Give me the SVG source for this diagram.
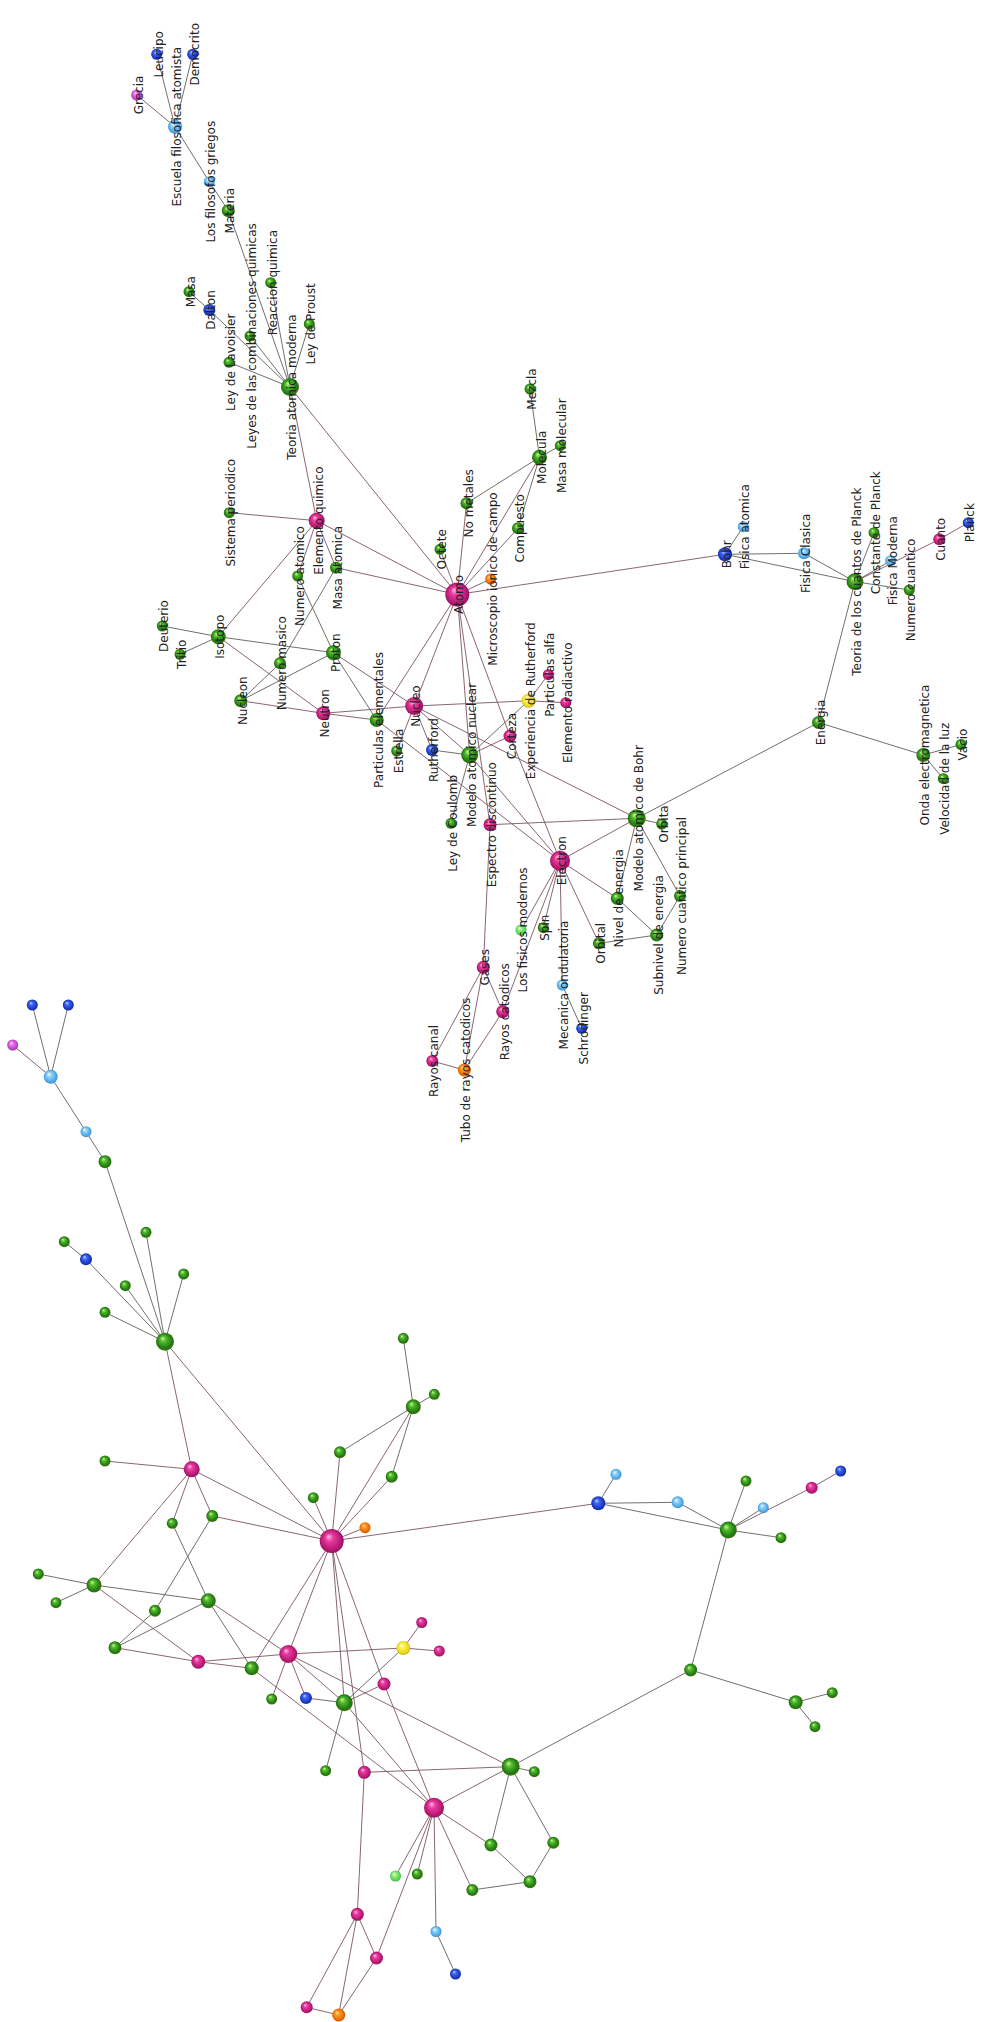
<svg xmlns="http://www.w3.org/2000/svg" width="981" height="2022" viewBox="0 0 981 2022">
<style>
.e{stroke:#5f605a;stroke-width:0.9;fill:none}
.p{stroke:#7c5464;stroke-width:0.9;fill:none}
.g{fill:url(#gG)}.m{fill:url(#gM)}.b{fill:url(#gB)}.lb{fill:url(#gLB)}.o{fill:url(#gO)}.y{fill:url(#gY)}.v{fill:url(#gV)}.lg{fill:url(#gLG)}
text{font-family:"DejaVu Sans","Liberation Sans",sans-serif;font-size:12px;fill:#222;text-anchor:middle}
</style>
<defs>
<radialGradient id="gG" cx="0.5" cy="0.5" r="0.55" fx="0.36" fy="0.3"><stop offset="0" stop-color="#d2f79a"/><stop offset="0.3" stop-color="#52ba2c"/><stop offset="0.78" stop-color="#1e7812"/><stop offset="1" stop-color="#6a6a14"/></radialGradient>
<radialGradient id="gM" cx="0.5" cy="0.5" r="0.55" fx="0.36" fy="0.3"><stop offset="0" stop-color="#ffc0e2"/><stop offset="0.3" stop-color="#ec3aa0"/><stop offset="0.78" stop-color="#b41872"/><stop offset="1" stop-color="#801450"/></radialGradient>
<radialGradient id="gB" cx="0.5" cy="0.5" r="0.55" fx="0.36" fy="0.3"><stop offset="0" stop-color="#c0d4ff"/><stop offset="0.3" stop-color="#3e66f2"/><stop offset="0.78" stop-color="#1a36c0"/><stop offset="1" stop-color="#122a80"/></radialGradient>
<radialGradient id="gLB" cx="0.5" cy="0.5" r="0.55" fx="0.36" fy="0.3"><stop offset="0" stop-color="#f4fcff"/><stop offset="0.3" stop-color="#92d4fa"/><stop offset="0.78" stop-color="#4aa6e6"/><stop offset="1" stop-color="#3a80c0"/></radialGradient>
<radialGradient id="gO" cx="0.5" cy="0.5" r="0.55" fx="0.36" fy="0.3"><stop offset="0" stop-color="#ffe4a8"/><stop offset="0.3" stop-color="#ff9c22"/><stop offset="0.78" stop-color="#ee6800"/><stop offset="1" stop-color="#a44400"/></radialGradient>
<radialGradient id="gY" cx="0.5" cy="0.5" r="0.55" fx="0.36" fy="0.3"><stop offset="0" stop-color="#ffffe4"/><stop offset="0.3" stop-color="#fbf252"/><stop offset="0.78" stop-color="#e6d61e"/><stop offset="1" stop-color="#b0a012"/></radialGradient>
<radialGradient id="gV" cx="0.5" cy="0.5" r="0.55" fx="0.36" fy="0.3"><stop offset="0" stop-color="#ffd8ff"/><stop offset="0.3" stop-color="#e476ec"/><stop offset="0.78" stop-color="#c040c8"/><stop offset="1" stop-color="#84308e"/></radialGradient>
<radialGradient id="gLG" cx="0.5" cy="0.5" r="0.55" fx="0.36" fy="0.3"><stop offset="0" stop-color="#f2ffe4"/><stop offset="0.3" stop-color="#98f288"/><stop offset="0.78" stop-color="#52d452"/><stop offset="1" stop-color="#34a434"/></radialGradient>
</defs>
<rect width="981" height="2022" fill="#fff"/>
<g id="connectors">
<g id="connectors-top">
<line class="p" x1="136.7" y1="95" x2="175" y2="126.7"/>
<line class="e" x1="156.7" y1="54.3" x2="175" y2="126.7"/>
<line class="e" x1="192.7" y1="54.3" x2="175" y2="126.7"/>
<line class="e" x1="175" y1="126.7" x2="209.3" y2="181.7"/>
<line class="e" x1="209.3" y1="181.7" x2="228.3" y2="210.7"/>
<line class="e" x1="228.3" y1="210.7" x2="290" y2="387"/>
<line class="e" x1="189" y1="291.7" x2="209.3" y2="310"/>
<line class="e" x1="209.3" y1="310" x2="290" y2="387"/>
<line class="e" x1="229" y1="362.3" x2="290" y2="387"/>
<line class="e" x1="250" y1="336" x2="290" y2="387"/>
<line class="e" x1="270.7" y1="282.7" x2="290" y2="387"/>
<line class="e" x1="309.3" y1="324" x2="290" y2="387"/>
<line class="p" x1="290" y1="387" x2="316.7" y2="520.7"/>
<line class="p" x1="290" y1="387" x2="457.3" y2="594.5"/>
<line class="p" x1="229.3" y1="512.7" x2="316.7" y2="520.7"/>
<line class="p" x1="316.7" y1="520.7" x2="457.3" y2="594.5"/>
<line class="p" x1="316.7" y1="520.7" x2="218.3" y2="636.7"/>
<line class="p" x1="316.7" y1="520.7" x2="297.7" y2="576"/>
<line class="p" x1="316.7" y1="520.7" x2="336" y2="567.7"/>
<line class="p" x1="336" y1="567.7" x2="457.3" y2="594.5"/>
<line class="e" x1="297.7" y1="576" x2="333.5" y2="652.7"/>
<line class="e" x1="336" y1="567.7" x2="280" y2="663.3"/>
<line class="e" x1="162.3" y1="626" x2="218.3" y2="636.7"/>
<line class="e" x1="180" y1="654.3" x2="218.3" y2="636.7"/>
<line class="e" x1="218.3" y1="636.7" x2="333.5" y2="652.7"/>
<line class="p" x1="218.3" y1="636.7" x2="323.3" y2="713.3"/>
<line class="e" x1="240.7" y1="700.7" x2="280" y2="663.3"/>
<line class="e" x1="240.7" y1="700.7" x2="333.5" y2="652.7"/>
<line class="p" x1="240.7" y1="700.7" x2="323.3" y2="713.3"/>
<line class="e" x1="333.5" y1="652.7" x2="376.7" y2="720"/>
<line class="p" x1="333.5" y1="652.7" x2="414.2" y2="706"/>
<line class="p" x1="323.3" y1="713.3" x2="414.2" y2="706"/>
<line class="p" x1="323.3" y1="713.3" x2="376.7" y2="720"/>
<line class="p" x1="376.7" y1="720" x2="457.3" y2="594.5"/>
<line class="p" x1="376.7" y1="720" x2="560" y2="860.7"/>
<line class="p" x1="414.2" y1="706" x2="457.3" y2="594.5"/>
<line class="p" x1="414.2" y1="706" x2="396.7" y2="751"/>
<line class="p" x1="414.2" y1="706" x2="432" y2="750"/>
<line class="p" x1="414.2" y1="706" x2="469.7" y2="755"/>
<line class="p" x1="414.2" y1="706" x2="528.5" y2="700.8"/>
<line class="p" x1="414.2" y1="706" x2="636.7" y2="818.3"/>
<line class="e" x1="432" y1="750" x2="469.7" y2="755"/>
<line class="p" x1="469.7" y1="755" x2="457.3" y2="594.5"/>
<line class="e" x1="469.7" y1="755" x2="451" y2="823.3"/>
<line class="e" x1="469.7" y1="755" x2="528.5" y2="700.8"/>
<line class="p" x1="469.7" y1="755" x2="510" y2="736"/>
<line class="p" x1="469.7" y1="755" x2="560" y2="860.7"/>
<line class="p" x1="457.3" y1="594.5" x2="510" y2="736"/>
<line class="p" x1="510" y1="736" x2="560" y2="860.7"/>
<line class="p" x1="457.3" y1="594.5" x2="490" y2="824.7"/>
<line class="p" x1="490" y1="824.7" x2="636.7" y2="818.3"/>
<line class="p" x1="490" y1="824.7" x2="483.3" y2="967.3"/>
<line class="p" x1="528.5" y1="700.8" x2="548.3" y2="674.7"/>
<line class="p" x1="528.5" y1="700.8" x2="565.8" y2="702.7"/>
<line class="p" x1="457.3" y1="594.5" x2="440" y2="549.3"/>
<line class="p" x1="457.3" y1="594.5" x2="466.5" y2="503.3"/>
<line class="p" x1="457.3" y1="594.5" x2="539.5" y2="457.3"/>
<line class="p" x1="457.3" y1="594.5" x2="518" y2="528.3"/>
<line class="p" x1="457.3" y1="594.5" x2="490.7" y2="579"/>
<line class="p" x1="457.3" y1="594.5" x2="725" y2="554.3"/>
<line class="e" x1="466.5" y1="503.3" x2="539.5" y2="457.3"/>
<line class="e" x1="518" y1="528.3" x2="539.5" y2="457.3"/>
<line class="e" x1="539.5" y1="457.3" x2="530" y2="389"/>
<line class="e" x1="539.5" y1="457.3" x2="560.3" y2="445.7"/>
<line class="p" x1="560" y1="860.7" x2="636.7" y2="818.3"/>
<line class="p" x1="560" y1="860.7" x2="617.3" y2="898.3"/>
<line class="p" x1="560" y1="860.7" x2="599" y2="943.3"/>
<line class="p" x1="560" y1="860.7" x2="562.3" y2="985"/>
<line class="p" x1="560" y1="860.7" x2="543.3" y2="927.7"/>
<line class="p" x1="560" y1="860.7" x2="521" y2="930"/>
<line class="p" x1="560" y1="860.7" x2="502.7" y2="1011.7"/>
<line class="e" x1="636.7" y1="818.3" x2="661.7" y2="824"/>
<line class="e" x1="636.7" y1="818.3" x2="680" y2="896"/>
<line class="e" x1="636.7" y1="818.3" x2="617.3" y2="898.3"/>
<line class="e" x1="636.7" y1="818.3" x2="818.5" y2="722.5"/>
<line class="e" x1="617.3" y1="898.3" x2="656.7" y2="935"/>
<line class="e" x1="656.7" y1="935" x2="599" y2="943.3"/>
<line class="e" x1="656.7" y1="935" x2="680" y2="896"/>
<line class="e" x1="562.3" y1="985" x2="581.7" y2="1028.3"/>
<line class="p" x1="483.3" y1="967.3" x2="502.7" y2="1011.7"/>
<line class="p" x1="483.3" y1="967.3" x2="432.3" y2="1061"/>
<line class="p" x1="483.3" y1="967.3" x2="464.3" y2="1070"/>
<line class="p" x1="432.3" y1="1061" x2="464.3" y2="1070"/>
<line class="p" x1="464.3" y1="1070" x2="502.7" y2="1011.7"/>
<line class="e" x1="725" y1="554.3" x2="743.3" y2="526.7"/>
<line class="e" x1="725" y1="554.3" x2="804" y2="553.3"/>
<line class="e" x1="725" y1="554.3" x2="855" y2="581.7"/>
<line class="e" x1="804" y1="553.3" x2="855" y2="581.7"/>
<line class="e" x1="855" y1="581.7" x2="874" y2="532.7"/>
<line class="e" x1="855" y1="581.7" x2="890.7" y2="560.7"/>
<line class="e" x1="855" y1="581.7" x2="909.3" y2="590"/>
<line class="p" x1="855" y1="581.7" x2="939.3" y2="539.3"/>
<line class="e" x1="855" y1="581.7" x2="818.5" y2="722.5"/>
<line class="p" x1="939.3" y1="539.3" x2="968.3" y2="522.7"/>
<line class="e" x1="818.5" y1="722.5" x2="923.3" y2="755"/>
<line class="e" x1="923.3" y1="755" x2="961" y2="744.5"/>
<line class="e" x1="923.3" y1="755" x2="943.3" y2="778.7"/>
</g>
<g id="connectors-bottom">
<line class="p" x1="12.7" y1="1045" x2="50.7" y2="1076.7"/>
<line class="e" x1="32.3" y1="1005" x2="50.7" y2="1076.7"/>
<line class="e" x1="68.3" y1="1005" x2="50.7" y2="1076.7"/>
<line class="e" x1="50.7" y1="1076.7" x2="86" y2="1131.7"/>
<line class="e" x1="86" y1="1131.7" x2="105" y2="1161.7"/>
<line class="e" x1="105" y1="1161.7" x2="165" y2="1341.7"/>
<line class="e" x1="64.3" y1="1241.7" x2="86" y2="1259.3"/>
<line class="e" x1="86" y1="1259.3" x2="165" y2="1341.7"/>
<line class="e" x1="105" y1="1312.3" x2="165" y2="1341.7"/>
<line class="e" x1="125.3" y1="1285.7" x2="165" y2="1341.7"/>
<line class="e" x1="146" y1="1232.3" x2="165" y2="1341.7"/>
<line class="e" x1="183.7" y1="1274" x2="165" y2="1341.7"/>
<line class="p" x1="165" y1="1341.7" x2="191.7" y2="1469.3"/>
<line class="p" x1="165" y1="1341.7" x2="331.7" y2="1541"/>
<line class="p" x1="105" y1="1461" x2="191.7" y2="1469.3"/>
<line class="p" x1="191.7" y1="1469.3" x2="331.7" y2="1541"/>
<line class="p" x1="191.7" y1="1469.3" x2="94" y2="1585"/>
<line class="p" x1="191.7" y1="1469.3" x2="172.3" y2="1523.3"/>
<line class="p" x1="191.7" y1="1469.3" x2="212.3" y2="1516"/>
<line class="p" x1="212.3" y1="1516" x2="331.7" y2="1541"/>
<line class="e" x1="172.3" y1="1523.3" x2="208.3" y2="1600.7"/>
<line class="e" x1="212.3" y1="1516" x2="155" y2="1610.7"/>
<line class="e" x1="38.3" y1="1574" x2="94" y2="1585"/>
<line class="e" x1="56" y1="1602.7" x2="94" y2="1585"/>
<line class="e" x1="94" y1="1585" x2="208.3" y2="1600.7"/>
<line class="p" x1="94" y1="1585" x2="198.3" y2="1661.7"/>
<line class="e" x1="115" y1="1647.7" x2="155" y2="1610.7"/>
<line class="e" x1="115" y1="1647.7" x2="208.3" y2="1600.7"/>
<line class="p" x1="115" y1="1647.7" x2="198.3" y2="1661.7"/>
<line class="e" x1="208.3" y1="1600.7" x2="251.7" y2="1668.3"/>
<line class="p" x1="208.3" y1="1600.7" x2="288.3" y2="1654"/>
<line class="p" x1="198.3" y1="1661.7" x2="288.3" y2="1654"/>
<line class="p" x1="198.3" y1="1661.7" x2="251.7" y2="1668.3"/>
<line class="p" x1="251.7" y1="1668.3" x2="331.7" y2="1541"/>
<line class="p" x1="251.7" y1="1668.3" x2="434" y2="1807.7"/>
<line class="p" x1="288.3" y1="1654" x2="331.7" y2="1541"/>
<line class="p" x1="288.3" y1="1654" x2="271.7" y2="1699"/>
<line class="p" x1="288.3" y1="1654" x2="306" y2="1698"/>
<line class="p" x1="288.3" y1="1654" x2="344.3" y2="1702.7"/>
<line class="p" x1="288.3" y1="1654" x2="403.3" y2="1648"/>
<line class="p" x1="288.3" y1="1654" x2="510.7" y2="1766.7"/>
<line class="e" x1="306" y1="1698" x2="344.3" y2="1702.7"/>
<line class="p" x1="344.3" y1="1702.7" x2="331.7" y2="1541"/>
<line class="e" x1="344.3" y1="1702.7" x2="325.7" y2="1770.7"/>
<line class="e" x1="344.3" y1="1702.7" x2="403.3" y2="1648"/>
<line class="p" x1="344.3" y1="1702.7" x2="384" y2="1684"/>
<line class="p" x1="344.3" y1="1702.7" x2="434" y2="1807.7"/>
<line class="p" x1="331.7" y1="1541" x2="384" y2="1684"/>
<line class="p" x1="384" y1="1684" x2="434" y2="1807.7"/>
<line class="p" x1="331.7" y1="1541" x2="364.3" y2="1772.3"/>
<line class="p" x1="364.3" y1="1772.3" x2="510.7" y2="1766.7"/>
<line class="p" x1="364.3" y1="1772.3" x2="357.3" y2="1914.3"/>
<line class="p" x1="403.3" y1="1648" x2="421.7" y2="1622.5"/>
<line class="p" x1="403.3" y1="1648" x2="439.3" y2="1651"/>
<line class="p" x1="331.7" y1="1541" x2="313.3" y2="1497.7"/>
<line class="p" x1="331.7" y1="1541" x2="340" y2="1452.3"/>
<line class="p" x1="331.7" y1="1541" x2="413.3" y2="1406.7"/>
<line class="p" x1="331.7" y1="1541" x2="391.7" y2="1476.7"/>
<line class="p" x1="331.7" y1="1541" x2="365" y2="1527.7"/>
<line class="p" x1="331.7" y1="1541" x2="598.3" y2="1503.3"/>
<line class="e" x1="340" y1="1452.3" x2="413.3" y2="1406.7"/>
<line class="e" x1="391.7" y1="1476.7" x2="413.3" y2="1406.7"/>
<line class="e" x1="413.3" y1="1406.7" x2="403.3" y2="1338.3"/>
<line class="e" x1="413.3" y1="1406.7" x2="434.3" y2="1394.3"/>
<line class="p" x1="434" y1="1807.7" x2="510.7" y2="1766.7"/>
<line class="p" x1="434" y1="1807.7" x2="491" y2="1845"/>
<line class="p" x1="434" y1="1807.7" x2="472.3" y2="1890"/>
<line class="p" x1="434" y1="1807.7" x2="436" y2="1931.5"/>
<line class="p" x1="434" y1="1807.7" x2="417.3" y2="1874"/>
<line class="p" x1="434" y1="1807.7" x2="395.5" y2="1876"/>
<line class="p" x1="434" y1="1807.7" x2="376.5" y2="1958"/>
<line class="e" x1="510.7" y1="1766.7" x2="534.3" y2="1771.7"/>
<line class="e" x1="510.7" y1="1766.7" x2="553.3" y2="1842.7"/>
<line class="e" x1="510.7" y1="1766.7" x2="491" y2="1845"/>
<line class="e" x1="510.7" y1="1766.7" x2="690.7" y2="1670"/>
<line class="e" x1="491" y1="1845" x2="530" y2="1881.7"/>
<line class="e" x1="530" y1="1881.7" x2="472.3" y2="1890"/>
<line class="e" x1="530" y1="1881.7" x2="553.3" y2="1842.7"/>
<line class="e" x1="436" y1="1931.5" x2="455.5" y2="1974"/>
<line class="p" x1="357.3" y1="1914.3" x2="376.5" y2="1958"/>
<line class="p" x1="357.3" y1="1914.3" x2="306.7" y2="2007.3"/>
<line class="p" x1="357.3" y1="1914.3" x2="338.7" y2="2015"/>
<line class="p" x1="306.7" y1="2007.3" x2="338.7" y2="2015"/>
<line class="p" x1="338.7" y1="2015" x2="376.5" y2="1958"/>
<line class="e" x1="598.3" y1="1503.3" x2="616" y2="1474.3"/>
<line class="e" x1="598.3" y1="1503.3" x2="677.7" y2="1502.3"/>
<line class="e" x1="598.3" y1="1503.3" x2="728.3" y2="1530"/>
<line class="e" x1="677.7" y1="1502.3" x2="728.3" y2="1530"/>
<line class="e" x1="728.3" y1="1530" x2="746" y2="1481"/>
<line class="e" x1="728.3" y1="1530" x2="763.3" y2="1507.7"/>
<line class="e" x1="728.3" y1="1530" x2="781" y2="1537.7"/>
<line class="p" x1="728.3" y1="1530" x2="811.7" y2="1487.7"/>
<line class="e" x1="728.3" y1="1530" x2="690.7" y2="1670"/>
<line class="p" x1="811.7" y1="1487.7" x2="840.7" y2="1471"/>
<line class="e" x1="690.7" y1="1670" x2="795.7" y2="1702.3"/>
<line class="e" x1="795.7" y1="1702.3" x2="832.3" y2="1692.7"/>
<line class="e" x1="795.7" y1="1702.3" x2="815" y2="1726.7"/>
</g>
</g>
<g id="nodes">
<g id="grecia"><circle class="v" cx="136.7" cy="95" r="5.5"/><circle class="v" cx="12.7" cy="1045" r="5.5"/><text transform="translate(136.7,95) rotate(-90)" y="6">Grecia</text></g>
<g id="leucipo"><circle class="b" cx="156.7" cy="54.3" r="5.5"/><circle class="b" cx="32.3" cy="1005" r="5.5"/><text transform="translate(156.7,54.3) rotate(-90)" y="6">Leucipo</text></g>
<g id="democrito"><circle class="b" cx="192.7" cy="54.3" r="5.5"/><circle class="b" cx="68.3" cy="1005" r="5.5"/><text transform="translate(192.7,54.3) rotate(-90)" y="6">Democrito</text></g>
<g id="escuela"><circle class="lb" cx="175" cy="126.7" r="7"/><circle class="lb" cx="50.7" cy="1076.7" r="7"/><text transform="translate(175,126.7) rotate(-90)" y="6">Escuela filosofica atomista</text></g>
<g id="filosofos"><circle class="lb" cx="209.3" cy="181.7" r="5.5"/><circle class="lb" cx="86" cy="1131.7" r="5.5"/><text transform="translate(209.3,181.7) rotate(-90)" y="6">Los filosofos griegos</text></g>
<g id="materia"><circle class="g" cx="228.3" cy="210.7" r="6.5"/><circle class="g" cx="105" cy="1161.7" r="6.5"/><text transform="translate(228.3,210.7) rotate(-90)" y="6">Materia</text></g>
<g id="masa"><circle class="g" cx="189" cy="291.7" r="5.5"/><circle class="g" cx="64.3" cy="1241.7" r="5.5"/><text transform="translate(189,291.7) rotate(-90)" y="6">Masa</text></g>
<g id="dalton"><circle class="b" cx="209.3" cy="310" r="6"/><circle class="b" cx="86" cy="1259.3" r="6"/><text transform="translate(209.3,310) rotate(-90)" y="6">Dalton</text></g>
<g id="reaccion"><circle class="g" cx="270.7" cy="282.7" r="5.5"/><circle class="g" cx="146" cy="1232.3" r="5.5"/><text transform="translate(270.7,282.7) rotate(-90)" y="6">Reaccion quimica</text></g>
<g id="lavoisier"><circle class="g" cx="229" cy="362.3" r="5.5"/><circle class="g" cx="105" cy="1312.3" r="5.5"/><text transform="translate(229,362.3) rotate(-90)" y="6">Ley de Lavoisier</text></g>
<g id="leyes"><circle class="g" cx="250" cy="336" r="5.5"/><circle class="g" cx="125.3" cy="1285.7" r="5.5"/><text transform="translate(250,336) rotate(-90)" y="6">Leyes de las combinaciones quimicas</text></g>
<g id="proust"><circle class="g" cx="309.3" cy="324" r="5.5"/><circle class="g" cx="183.7" cy="1274" r="5.5"/><text transform="translate(309.3,324) rotate(-90)" y="6">Ley de Proust</text></g>
<g id="teoria"><circle class="g" cx="290" cy="387" r="9"/><circle class="g" cx="165" cy="1341.7" r="9"/><text transform="translate(290,387) rotate(-90)" y="6">Teoria atomica moderna</text></g>
<g id="sistema"><circle class="g" cx="229.3" cy="512.7" r="5.5"/><circle class="g" cx="105" cy="1461" r="5.5"/><text transform="translate(229.3,512.7) rotate(-90)" y="6">Sistema periodico</text></g>
<g id="numatomico"><circle class="g" cx="297.7" cy="576" r="5.5"/><circle class="g" cx="172.3" cy="1523.3" r="5.5"/><text transform="translate(297.7,576) rotate(-90)" y="6">Numero atomico</text></g>
<g id="masaatomica"><circle class="g" cx="336" cy="567.7" r="6"/><circle class="g" cx="212.3" cy="1516" r="6"/><text transform="translate(336,567.7) rotate(-90)" y="6">Masa atomica</text></g>
<g id="elemento"><circle class="m" cx="316.7" cy="520.7" r="8"/><circle class="m" cx="191.7" cy="1469.3" r="8"/><text transform="translate(316.7,520.7) rotate(-90)" y="6">Elemento quimico</text></g>
<g id="octete"><circle class="g" cx="440" cy="549.3" r="5.5"/><circle class="g" cx="313.3" cy="1497.7" r="5.5"/><text transform="translate(440,549.3) rotate(-90)" y="6">Octete</text></g>
<g id="nometales"><circle class="g" cx="466.5" cy="503.3" r="6"/><circle class="g" cx="340" cy="1452.3" r="6"/><text transform="translate(466.5,503.3) rotate(-90)" y="6">No metales</text></g>
<g id="microscopio"><circle class="o" cx="490.7" cy="579" r="5.5"/><circle class="o" cx="365" cy="1527.7" r="5.5"/><text transform="translate(490.7,579) rotate(-90)" y="6">Microscopio ionico de campo</text></g>
<g id="compuesto"><circle class="g" cx="518" cy="528.3" r="6"/><circle class="g" cx="391.7" cy="1476.7" r="6"/><text transform="translate(518,528.3) rotate(-90)" y="6">Compuesto</text></g>
<g id="mezcla"><circle class="g" cx="530" cy="389" r="5.5"/><circle class="g" cx="403.3" cy="1338.3" r="5.5"/><text transform="translate(530,389) rotate(-90)" y="6">Mezcla</text></g>
<g id="masamolecular"><circle class="g" cx="560.3" cy="445.7" r="5.5"/><circle class="g" cx="434.3" cy="1394.3" r="5.5"/><text transform="translate(560.3,445.7) rotate(-90)" y="6">Masa molecular</text></g>
<g id="molecula"><circle class="g" cx="539.5" cy="457.3" r="7.5"/><circle class="g" cx="413.3" cy="1406.7" r="7.5"/><text transform="translate(539.5,457.3) rotate(-90)" y="6">Molecula</text></g>
<g id="atomo"><circle class="m" cx="457.3" cy="594.5" r="12"/><circle class="m" cx="331.7" cy="1541" r="12"/><text transform="translate(457.3,594.5) rotate(-90)" y="6">Atomo</text></g>
<g id="deuterio"><circle class="g" cx="162.3" cy="626" r="5.5"/><circle class="g" cx="38.3" cy="1574" r="5.5"/><text transform="translate(162.3,626) rotate(-90)" y="6">Deuterio</text></g>
<g id="tritio"><circle class="g" cx="180" cy="654.3" r="5.5"/><circle class="g" cx="56" cy="1602.7" r="5.5"/><text transform="translate(180,654.3) rotate(-90)" y="6">Tritio</text></g>
<g id="isotopo"><circle class="g" cx="218.3" cy="636.7" r="7.5"/><circle class="g" cx="94" cy="1585" r="7.5"/><text transform="translate(218.3,636.7) rotate(-90)" y="6">Isotopo</text></g>
<g id="nummasico"><circle class="g" cx="280" cy="663.3" r="6"/><circle class="g" cx="155" cy="1610.7" r="6"/><text transform="translate(280,663.3) rotate(-90)" y="6">Numero masico</text></g>
<g id="proton"><circle class="g" cx="333.5" cy="652.7" r="7.5"/><circle class="g" cx="208.3" cy="1600.7" r="7.5"/><text transform="translate(333.5,652.7) rotate(-90)" y="6">Proton</text></g>
<g id="nucleon"><circle class="g" cx="240.7" cy="700.7" r="6.5"/><circle class="g" cx="115" cy="1647.7" r="6.5"/><text transform="translate(240.7,700.7) rotate(-90)" y="6">Nucleon</text></g>
<g id="neutron"><circle class="m" cx="323.3" cy="713.3" r="7"/><circle class="m" cx="198.3" cy="1661.7" r="7"/><text transform="translate(323.3,713.3) rotate(-90)" y="6">Neutron</text></g>
<g id="particulas"><circle class="g" cx="376.7" cy="720" r="7"/><circle class="g" cx="251.7" cy="1668.3" r="7"/><text transform="translate(376.7,720) rotate(-90)" y="6">Particulas elementales</text></g>
<g id="estrella"><circle class="g" cx="396.7" cy="751" r="5.5"/><circle class="g" cx="271.7" cy="1699" r="5.5"/><text transform="translate(396.7,751) rotate(-90)" y="6">Estrella</text></g>
<g id="rutherford"><circle class="b" cx="432" cy="750" r="6"/><circle class="b" cx="306" cy="1698" r="6"/><text transform="translate(432,750) rotate(-90)" y="6">Rutherford</text></g>
<g id="nucleo"><circle class="m" cx="414.2" cy="706" r="9"/><circle class="m" cx="288.3" cy="1654" r="9"/><text transform="translate(414.2,706) rotate(-90)" y="6">Nucleo</text></g>
<g id="modelonuclear"><circle class="g" cx="469.7" cy="755" r="8.5"/><circle class="g" cx="344.3" cy="1702.7" r="8.5"/><text transform="translate(469.7,755) rotate(-90)" y="6">Modelo atomico nuclear</text></g>
<g id="corteza"><circle class="m" cx="510" cy="736" r="6.5"/><circle class="m" cx="384" cy="1684" r="6.5"/><text transform="translate(510,736) rotate(-90)" y="6">Corteza</text></g>
<g id="alfa"><circle class="m" cx="548.3" cy="674.7" r="5.5"/><circle class="m" cx="421.7" cy="1622.5" r="5.5"/><text transform="translate(548.3,674.7) rotate(-90)" y="6">Particulas alfa</text></g>
<g id="radiactivo"><circle class="m" cx="565.8" cy="702.7" r="5.5"/><circle class="m" cx="439.3" cy="1651" r="5.5"/><text transform="translate(565.8,702.7) rotate(-90)" y="6">Elemento radiactivo</text></g>
<g id="experiencia"><circle class="y" cx="528.5" cy="700.8" r="7"/><circle class="y" cx="403.3" cy="1648" r="7"/><text transform="translate(528.5,700.8) rotate(-90)" y="6">Experiencia de Rutherford</text></g>
<g id="coulomb"><circle class="g" cx="451" cy="823.3" r="5.5"/><circle class="g" cx="325.7" cy="1770.7" r="5.5"/><text transform="translate(451,823.3) rotate(-90)" y="6">Ley de Coulomb</text></g>
<g id="espectro"><circle class="m" cx="490" cy="824.7" r="6.5"/><circle class="m" cx="364.3" cy="1772.3" r="6.5"/><text transform="translate(490,824.7) rotate(-90)" y="6">Espectro discontinuo</text></g>
<g id="orbita"><circle class="g" cx="661.7" cy="824" r="5.5"/><circle class="g" cx="534.3" cy="1771.7" r="5.5"/><text transform="translate(661.7,824) rotate(-90)" y="6">Orbita</text></g>
<g id="bohrmodel"><circle class="g" cx="636.7" cy="818.3" r="9"/><circle class="g" cx="510.7" cy="1766.7" r="9"/><text transform="translate(636.7,818.3) rotate(-90)" y="6">Modelo atomico de Bohr</text></g>
<g id="nivel"><circle class="g" cx="617.3" cy="898.3" r="6.5"/><circle class="g" cx="491" cy="1845" r="6.5"/><text transform="translate(617.3,898.3) rotate(-90)" y="6">Nivel de energia</text></g>
<g id="ncprincipal"><circle class="g" cx="680" cy="896" r="6"/><circle class="g" cx="553.3" cy="1842.7" r="6"/><text transform="translate(680,896) rotate(-90)" y="6">Numero cuantico principal</text></g>
<g id="subnivel"><circle class="g" cx="656.7" cy="935" r="6.5"/><circle class="g" cx="530" cy="1881.7" r="6.5"/><text transform="translate(656.7,935) rotate(-90)" y="6">Subnivel de energia</text></g>
<g id="orbital"><circle class="g" cx="599" cy="943.3" r="6"/><circle class="g" cx="472.3" cy="1890" r="6"/><text transform="translate(599,943.3) rotate(-90)" y="6">Orbital</text></g>
<g id="spin"><circle class="g" cx="543.3" cy="927.7" r="5.5"/><circle class="g" cx="417.3" cy="1874" r="5.5"/><text transform="translate(543.3,927.7) rotate(-90)" y="6">Spin</text></g>
<g id="fisicosmod"><circle class="lg" cx="521" cy="930" r="5.5"/><circle class="lg" cx="395.5" cy="1876" r="5.5"/><text transform="translate(521,930) rotate(-90)" y="6">Los fisicos modernos</text></g>
<g id="electron"><circle class="m" cx="560" cy="860.7" r="10"/><circle class="m" cx="434" cy="1807.7" r="10"/><text transform="translate(560,860.7) rotate(-90)" y="6">Electron</text></g>
<g id="mecanica"><circle class="lb" cx="562.3" cy="985" r="5.5"/><circle class="lb" cx="436" cy="1931.5" r="5.5"/><text transform="translate(562.3,985) rotate(-90)" y="6">Mecanica ondulatoria</text></g>
<g id="schrodinger"><circle class="b" cx="581.7" cy="1028.3" r="5.5"/><circle class="b" cx="455.5" cy="1974" r="5.5"/><text transform="translate(581.7,1028.3) rotate(-90)" y="6">Schrodinger</text></g>
<g id="gases"><circle class="m" cx="483.3" cy="967.3" r="6.5"/><circle class="m" cx="357.3" cy="1914.3" r="6.5"/><text transform="translate(483.3,967.3) rotate(-90)" y="6">Gases</text></g>
<g id="rayoscat"><circle class="m" cx="502.7" cy="1011.7" r="6.5"/><circle class="m" cx="376.5" cy="1958" r="6.5"/><text transform="translate(502.7,1011.7) rotate(-90)" y="6">Rayos catodicos</text></g>
<g id="rayoscanal"><circle class="m" cx="432.3" cy="1061" r="6"/><circle class="m" cx="306.7" cy="2007.3" r="6"/><text transform="translate(432.3,1061) rotate(-90)" y="6">Rayos canal</text></g>
<g id="tubo"><circle class="o" cx="464.3" cy="1070" r="6.5"/><circle class="o" cx="338.7" cy="2015" r="6.5"/><text transform="translate(464.3,1070) rotate(-90)" y="6">Tubo de rayos catodicos</text></g>
<g id="bohr"><circle class="b" cx="725" cy="554.3" r="7"/><circle class="b" cx="598.3" cy="1503.3" r="7"/><text transform="translate(725,554.3) rotate(-90)" y="6">Bohr</text></g>
<g id="fisatomica"><circle class="lb" cx="743.3" cy="526.7" r="5.5"/><circle class="lb" cx="616" cy="1474.3" r="5.5"/><text transform="translate(743.3,526.7) rotate(-90)" y="6">Fisica atomica</text></g>
<g id="fisclasica"><circle class="lb" cx="804" cy="553.3" r="6"/><circle class="lb" cx="677.7" cy="1502.3" r="6"/><text transform="translate(804,553.3) rotate(-90)" y="6">Fisica Clasica</text></g>
<g id="constante"><circle class="g" cx="874" cy="532.7" r="5.5"/><circle class="g" cx="746" cy="1481" r="5.5"/><text transform="translate(874,532.7) rotate(-90)" y="6">Constante de Planck</text></g>
<g id="fismoderna"><circle class="lb" cx="890.7" cy="560.7" r="5.5"/><circle class="lb" cx="763.3" cy="1507.7" r="5.5"/><text transform="translate(890.7,560.7) rotate(-90)" y="6">Fisica Moderna</text></g>
<g id="numcuantico"><circle class="g" cx="909.3" cy="590" r="5.5"/><circle class="g" cx="781" cy="1537.7" r="5.5"/><text transform="translate(909.3,590) rotate(-90)" y="6">Numero cuantico</text></g>
<g id="teoriacuantos"><circle class="g" cx="855" cy="581.7" r="8.5"/><circle class="g" cx="728.3" cy="1530" r="8.5"/><text transform="translate(855,581.7) rotate(-90)" y="6">Teoria de los cuantos de Planck</text></g>
<g id="cuanto"><circle class="m" cx="939.3" cy="539.3" r="6"/><circle class="m" cx="811.7" cy="1487.7" r="6"/><text transform="translate(939.3,539.3) rotate(-90)" y="6">Cuanto</text></g>
<g id="planck"><circle class="b" cx="968.3" cy="522.7" r="5.5"/><circle class="b" cx="840.7" cy="1471" r="5.5"/><text transform="translate(968.3,522.7) rotate(-90)" y="6">Planck</text></g>
<g id="energia"><circle class="g" cx="818.5" cy="722.5" r="6.5"/><circle class="g" cx="690.7" cy="1670" r="6.5"/><text transform="translate(818.5,722.5) rotate(-90)" y="6">Energia</text></g>
<g id="vacio"><circle class="g" cx="961" cy="744.5" r="5.5"/><circle class="g" cx="832.3" cy="1692.7" r="5.5"/><text transform="translate(961,744.5) rotate(-90)" y="6">Vacio</text></g>
<g id="velocidad"><circle class="g" cx="943.3" cy="778.7" r="5.5"/><circle class="g" cx="815" cy="1726.7" r="5.5"/><text transform="translate(943.3,778.7) rotate(-90)" y="6">Velocidad de la luz</text></g>
<g id="onda"><circle class="g" cx="923.3" cy="755" r="7"/><circle class="g" cx="795.7" cy="1702.3" r="7"/><text transform="translate(923.3,755) rotate(-90)" y="6">Onda electromagnetica</text></g>
</g>
</svg>
